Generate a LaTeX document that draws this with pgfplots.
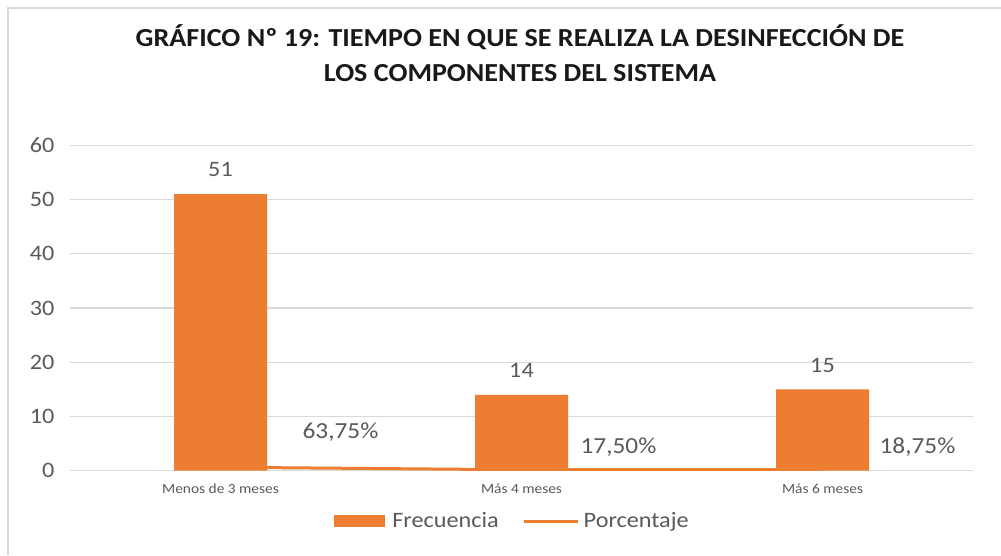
\documentclass[border=0pt]{standalone}
\usepackage{fontspec}
\setmainfont{Carlito}[FakeStretch=1.1]
\newfontfamily\titlefont{Carlito}[FakeStretch=1.08]
\usepackage{pgfplots}
\pgfplotsset{compat=1.18}
\definecolor{barorange}{HTML}{ED7D31}
\definecolor{txtgrey}{HTML}{595959}
\definecolor{gridgrey}{HTML}{D9D9D9}

\begin{document}
\begin{tikzpicture}
\useasboundingbox (0,0) rectangle (1001pt,555pt);
\draw[gridgrey, line width=1.5pt] (8pt,0pt) -- (8pt,547pt) -- (1001pt,547pt);
\begin{axis}[
  at={(70pt,84.3pt)}, anchor=south west,
  scale only axis, width=903pt, height=325.4pt,
  xmin=-0.5, xmax=2.5, ymin=0, ymax=60,
  axis line style={draw=none},
  major tick length=0pt,
  ytick={0,10,...,60},
  xtick={0,1,2},
  xticklabels={Menos de 3 meses, Más 4 meses, Más 6 meses},
  ymajorgrids, grid style={gridgrey, line width=1.2pt},
  /pgf/number format/assume math mode=true,
  yticklabel style={font=\fontsize{22}{26}\selectfont, text=txtgrey, xshift=-12pt},
  xticklabel style={font=\fontsize{14}{16}\selectfont, text=txtgrey, yshift=-10pt},
  legend columns=2,
  legend style={draw=none, fill=none, at={(0.49,-0.155)}, anchor=center,
    font=\fontsize{22}{26}\selectfont, text=txtgrey,
    /tikz/every even column/.append style={column sep=22pt}},
]
% Frecuencia
\addplot[ybar, bar width=93pt, bar shift=0pt, fill=barorange, draw=none,
  nodes near coords,
  every node near coord/.append style={font=\fontsize{22}{26}\selectfont, text=txtgrey, inner sep=0pt, yshift=17pt},
  legend image code/.code={\fill[barorange] (0pt,-6pt) rectangle (51pt,6pt); \path (56pt,0pt);}]
  coordinates {(0,51) (1,14) (2,15)};
\addlegendentry{Frecuencia}
% Porcentaje
\addplot[barorange, line width=3pt, mark=none,
  legend image code/.code={\draw[barorange, line width=3pt] (0pt,0pt) -- (54pt,0pt); \path (56pt,0pt);}]
  coordinates {(0,0.6375) (1,0.175) (2,0.1875)};
\addlegendentry{Porcentaje}
\node[font=\fontsize{23}{26}\selectfont, text=txtgrey] at (axis cs:0,0.6375) [xshift=120pt, yshift=35pt] {63,75\%};
\node[font=\fontsize{23}{26}\selectfont, text=txtgrey] at (axis cs:1,0.175) [xshift=97pt, yshift=23pt] {17,50\%};
\node[font=\fontsize{23}{26}\selectfont, text=txtgrey] at (axis cs:2,0.1875) [xshift=95pt, yshift=23pt] {18,75\%};
\end{axis}
\node[font=\titlefont\bfseries\fontsize{26}{35}\selectfont, align=center, text=black!90] at (520pt,502pt)
  {GRÁFICO Nº 19: TIEMPO EN QUE SE REALIZA LA DESINFECCIÓN DE\\LOS COMPONENTES DEL SISTEMA};
\end{tikzpicture}
\end{document}
